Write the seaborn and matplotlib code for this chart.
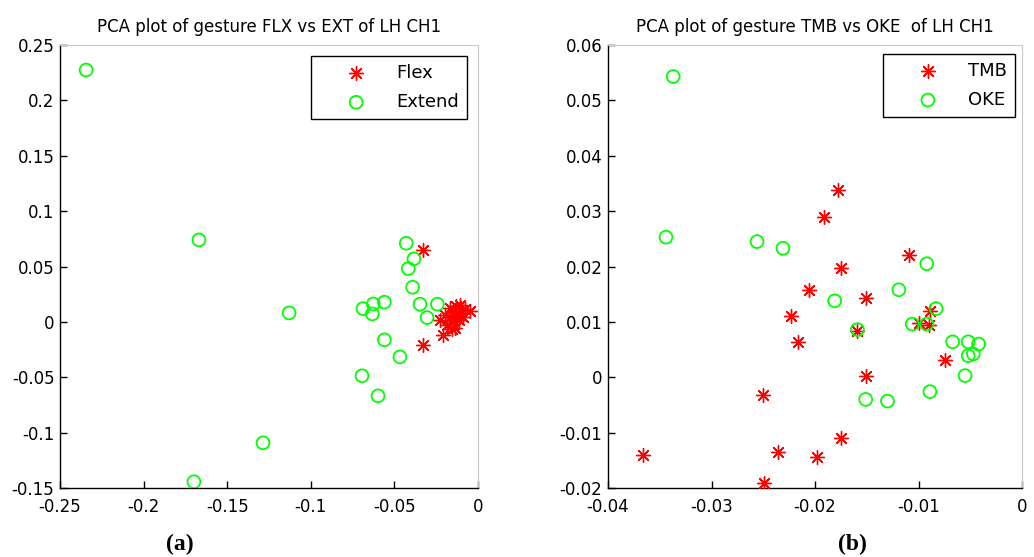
import numpy as np
import pandas as pd
import matplotlib
matplotlib.use("Agg")
import matplotlib.pyplot as plt
import seaborn as sns
from matplotlib.ticker import FuncFormatter, MultipleLocator

# ---------------- data ----------------
# Panel (a): FLX vs EXT
flex_x = [-0.0327, -0.0327, -0.0208, -0.0226, -0.0195, -0.0185, -0.0170, -0.0165,
          -0.0158, -0.0150, -0.0142, -0.0137, -0.0130, -0.0122, -0.0115, -0.0108,
          -0.0100, -0.0088, -0.0075, -0.0045]
flex_y = [0.0650, -0.0208, -0.0117, 0.0018, 0.0062, -0.0025, 0.0125, 0.0045,
          -0.0060, 0.0090, 0.0010, -0.0054, 0.0140, 0.0065, 0.0020, 0.0150,
          0.0100, 0.0045, 0.0120, 0.0100]
ext_x = [-0.2344, -0.1669, -0.1130, -0.1286, -0.1699, -0.0429, -0.0383, -0.0417,
         -0.0391, -0.0347, -0.0243, -0.0560, -0.0626, -0.0688, -0.0632, -0.0305,
         -0.0560, -0.0467, -0.0694, -0.0598]
ext_y = [0.2274, 0.0740, 0.0081, -0.1092, -0.1444, 0.0710, 0.0569, 0.0481,
         0.0313, 0.0160, 0.0160, 0.0178, 0.0162, 0.0120, 0.0072, 0.0039,
         -0.0162, -0.0316, -0.0487, -0.0668]

# Panel (b): TMB vs OKE
tmb_x = [-0.0178, -0.0191, -0.0109, -0.0175, -0.0206, -0.0151, -0.0223, -0.0089,
         -0.0100, -0.0090, -0.0159, -0.0216, -0.0074, -0.0151, -0.0250, -0.0366,
         -0.0249, -0.0236, -0.0198, -0.0175]
tmb_y = [0.0338, 0.0290, 0.0220, 0.0198, 0.0158, 0.0144, 0.0110, 0.0119,
         0.0098, 0.0095, 0.0083, 0.0064, 0.0031, 0.0003, -0.0032, -0.0140,
         -0.0191, -0.0135, -0.0144, -0.0109]
oke_x = [-0.0337, -0.0344, -0.0256, -0.0231, -0.0092, -0.0119, -0.0181, -0.0083,
         -0.0106, -0.0092, -0.0159, -0.0067, -0.0052, -0.0042, -0.0052, -0.0047,
         -0.0055, -0.0089, -0.0151, -0.0130]
oke_y = [0.0543, 0.0253, 0.0245, 0.0233, 0.0205, 0.0158, 0.0138, 0.0124,
         0.0096, 0.0096, 0.0086, 0.0064, 0.0064, 0.0060, 0.0039, 0.0042,
         0.0003, -0.0026, -0.0040, -0.0043]

titles = ["PCA plot of gesture FLX vs EXT of LH CH1",
          "PCA plot of gesture TMB vs OKE  of LH CH1"]
labels_a = ["Flex", "Extend"]
labels_b = ["TMB", "OKE"]
panel_tags = ["(a)", "(b)"]

# ---------------- style ----------------
sns.set_theme(style="white")
plt.rcParams["font.family"] = ["DejaVu Sans"]
plt.rcParams["axes.unicode_minus"] = False
plt.rcParams["text.color"] = "black"
plt.rcParams["axes.labelcolor"] = "black"
plt.rcParams["xtick.color"] = "black"
plt.rcParams["ytick.color"] = "black"

W, H = 1034, 557
fig = plt.figure(figsize=(W / 100, H / 100), dpi=100)
ax1 = fig.add_axes([60 / W, 1 - 488 / H, 418 / W, 443 / H])
ax2 = fig.add_axes([608 / W, 1 - 488 / H, 414 / W, 443 / H])

RED = "#ff0000"
GREEN = "#00ff00"
STAR = (8, 2, 0)


def fmt(v, p):
    if abs(v) < 1e-12:
        return "0"
    return "%g" % round(v, 6)


def draw(ax, sx, sy, cx, cy, labs, title, xlim, ylim, xstep, ystep, legpos):
    sns.scatterplot(x=sx, y=sy, ax=ax, marker=STAR, s=100, color=RED,
                    edgecolor=RED, linewidth=1.0, label=labs[0], zorder=3)
    sns.scatterplot(x=cx, y=cy, ax=ax, marker="o", s=85, facecolors="none",
                    edgecolor=GREEN, linewidth=1.3, label=labs[1], zorder=3)
    for coll in ax.collections[1:2]:
        coll.set_facecolor("none")
        coll.set_edgecolor(GREEN)
    ax.set_xlim(*xlim)
    ax.set_ylim(*ylim)
    ax.xaxis.set_major_locator(MultipleLocator(xstep))
    ax.yaxis.set_major_locator(MultipleLocator(ystep))
    ax.xaxis.set_major_formatter(FuncFormatter(fmt))
    ax.yaxis.set_major_formatter(FuncFormatter(fmt))
    ax.tick_params(axis="both", direction="in", length=5, width=1,
                   color="black", labelcolor="black", labelsize=12,
                   bottom=True, left=True, top=False, right=False)
    ax.tick_params(axis="x", pad=7)
    ax.tick_params(axis="y", pad=4)
    for s in ["left", "bottom"]:
        ax.spines[s].set_color("black")
        ax.spines[s].set_linewidth(1.0)
    for s in ["top", "right"]:
        ax.spines[s].set_color("#c8c8c8")
        ax.spines[s].set_linewidth(0.8)
    ax.set_xlabel("")
    ax.set_ylabel("")
    ax.set_title(title, fontsize=12, color="black", pad=9)
    leg = ax.legend(loc="upper right", bbox_to_anchor=legpos, fontsize=13,
                    frameon=True, fancybox=False, edgecolor="black",
                    framealpha=1, borderpad=0.45, handlelength=4.1,
                    handletextpad=0.17, labelspacing=0.6, borderaxespad=0,
                    scatterpoints=1)
    leg.get_frame().set_linewidth(1.0)
    for t in leg.get_texts():
        t.set_color("black")
    for h in leg.legend_handles[1:2]:
        h.set_facecolor("none")
        h.set_edgecolor(GREEN)


draw(ax1, flex_x, flex_y, ext_x, ext_y, labels_a, titles[0],
     (-0.25, 0), (-0.15, 0.25), 0.05, 0.05, (0.974, 0.975))
draw(ax2, tmb_x, tmb_y, oke_x, oke_y, labels_b, titles[1],
     (-0.04, 0), (-0.02, 0.06), 0.01, 0.01, (0.983, 0.980))

fig.text(180 / W, 1 - 544 / H, panel_tags[0], ha="center", va="center",
         family="Liberation Serif", weight="bold", fontsize=17, color="black")
fig.text(852 / W, 1 - 544 / H, panel_tags[1], ha="center", va="center",
         family="Liberation Serif", weight="bold", fontsize=17, color="black")

fig.savefig("out.png", dpi=100, facecolor="white")
